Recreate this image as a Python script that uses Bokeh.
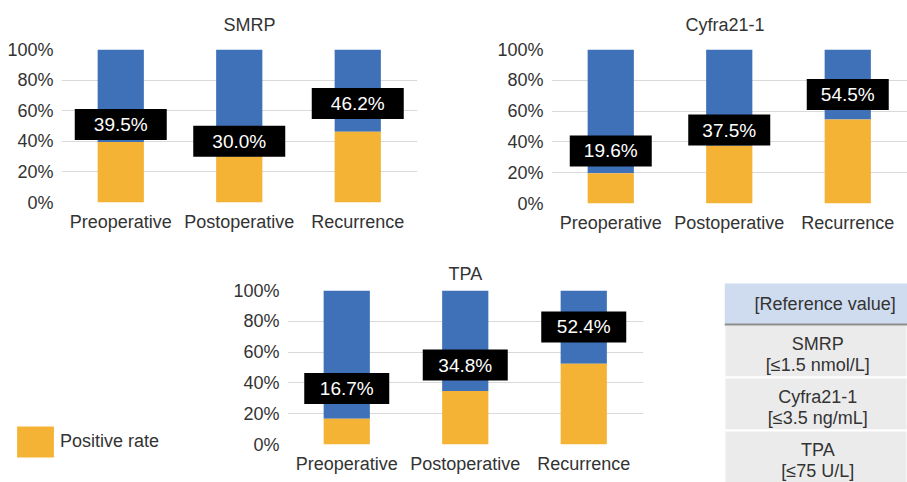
from bokeh.plotting import figure
from bokeh.layouts import column, row
from bokeh.models import (ColumnDataSource, FixedTicker, Range1d, Legend, LegendItem)
from bokeh.embed import file_html
from bokeh.resources import INLINE
from bokeh.core.properties import value

# ---------------- data ----------------
categories = ["Preoperative", "Postoperative", "Recurrence"]
smrp_rate = [39.5, 30.0, 46.2]
cyfra_rate = [19.6, 37.5, 54.5]
tpa_rate = [16.7, 34.8, 52.4]
y_ticks = [0, 20, 40, 60, 80, 100]
y_tick_labels = ["0%", "20%", "40%", "60%", "80%", "100%"]
markers = ["SMRP", "Cyfra21-1", "TPA"]
reference_values = ["[≤1.5 nmol/L]", "[≤3.5 ng/mL]", "[≤75 U/L]"]
table_header = "[Reference value]"
legend_label = "Positive rate"

# ---------------- style ----------------
BLUE = "#3F71B8"
YELLOW = "#F5B335"
TEXT = "#333333"
GRID = "#D9D9D9"
FONT = "Liberation Sans"
CAT_PX = 118.5  # pixels per category
# how far (in % units) each data label box sits above its bar's value
smrp_label_lift = [11.5, 10.0, 18.5]
cyfra_label_lift = [14.5, 10.2, 16.3]
tpa_label_lift = [19.7, 16.8, 23.9]


def make_chart(title, rates, lifts, box_w, width, height, left, top, frame_w, frame_h,
               title_offset, title_valign, title_standoff):
    xs = list(range(1, len(categories) + 1))
    x_end = 0.5 + frame_w / CAT_PX
    src = ColumnDataSource(dict(
        x=xs,
        rate=rates,
        full=[100] * len(rates),
        label=[f"{r:.1f}%" for r in rates],
        label_y=[r + d for r, d in zip(rates, lifts)],
    ))
    p = figure(width=width, height=height, title=title,
               x_range=Range1d(0.5, x_end), y_range=Range1d(0, 100),
               output_backend="svg", toolbar_location=None,
               min_border_left=left, min_border_right=width - left - frame_w,
               min_border_top=top, min_border_bottom=height - top - frame_h)
    p.frame_align = False
    p.title.align = "left"
    p.title.vertical_align = title_valign
    p.title.offset = title_offset
    p.title.standoff = title_standoff
    p.title.text_font = FONT
    p.title.text_font_size = "18px"
    p.title.text_font_style = "normal"
    p.title.text_color = TEXT
    p.outline_line_color = None
    p.background_fill_color = "white"
    p.border_fill_color = "white"

    p.vbar(x="x", bottom="rate", top="full", width=0.39, source=src,
           fill_color=BLUE, line_color=None)
    p.vbar(x="x", bottom=0, top="rate", width=0.39, source=src,
           fill_color=YELLOW, line_color=None)
    p.rect(x="x", y="label_y", width=box_w, height=31, width_units="screen",
           height_units="screen", source=src, fill_color="black", line_color=None)
    p.text(x="x", y="label_y", text="label", source=src, text_color="white",
           text_font=value(FONT), text_font_size="19px",
           text_align="center", text_baseline="middle")

    p.xgrid.visible = False
    p.ygrid.grid_line_color = GRID
    p.ygrid.ticker = FixedTicker(ticks=y_ticks)

    p.yaxis.ticker = FixedTicker(ticks=y_ticks)
    p.yaxis.major_label_overrides = dict(zip(y_ticks, y_tick_labels))
    p.xaxis.ticker = FixedTicker(ticks=xs)
    p.xaxis.major_label_overrides = dict(zip(xs, categories))
    for ax in (p.xaxis[0], p.yaxis[0]):
        ax.axis_line_color = None
        ax.major_tick_line_color = None
        ax.minor_tick_line_color = None
        ax.major_tick_out = 0
        ax.major_tick_in = 0
        ax.minor_tick_out = 0
        ax.major_label_text_font = FONT
        ax.major_label_text_color = TEXT
        ax.major_label_text_font_size = "18px"
    p.yaxis.major_label_standoff = 8
    p.xaxis.major_label_standoff = 9
    return p, src


p_smrp, _ = make_chart("SMRP", smrp_rate, smrp_label_lift, 92,
                       491, 248, 61, 49, 356, 153, 162, "top", 25)
p_cyfra, _ = make_chart("Cyfra21-1", cyfra_rate, cyfra_label_lift, 82,
                        416, 248, 60, 49, 356, 154, 134, "top", 25)
p_tpa, tpa_src = make_chart("TPA", tpa_rate, tpa_label_lift, 85,
                            524, 234, 87, 42, 356, 154, 161, "bottom", 14)

# ---------------- legend panel (left of the TPA chart) ----------------
p_leg = figure(width=200, height=234, x_range=Range1d(0, 1), y_range=Range1d(0, 1),
               output_backend="svg", toolbar_location=None,
               x_axis_location=None, y_axis_location=None, min_border=0)
p_leg.frame_align = False
p_leg.outline_line_color = None
p_leg.grid.visible = False
leg_r = p_leg.vbar(x="x", top="rate", width=0.39, source=tpa_src,
                   fill_color=YELLOW, line_color=None)
leg_r.visible = False
legend = Legend(items=[LegendItem(label=legend_label, renderers=[leg_r])],
                location=(12, 21), padding=0, margin=0, border_line_color=None,
                background_fill_alpha=0, glyph_width=46, glyph_height=39,
                label_standoff=2, label_text_font=FONT,
                label_text_font_size="18px", label_text_color=TEXT,
                label_height=39, inactive_fill_alpha=0)
p_leg.add_layout(legend, "center")

# ---------------- reference value table ----------------
n = len(markers)
UNIT = 53.0
TAB_H = 234
y0 = n - (482 - 324) / UNIT
y1 = y0 + TAB_H / UNIT
hdr_top = n + 41 / UNIT
p_tab = figure(width=183, height=TAB_H, x_range=Range1d(0, 1), y_range=Range1d(y0, y1),
               output_backend="svg", toolbar_location=None,
               x_axis_location=None, y_axis_location=None, min_border=0)
p_tab.frame_align = False
p_tab.outline_line_color = None
p_tab.grid.visible = False
row_bottom = [n - 1 - i for i in range(n)]
tab_src = ColumnDataSource(dict(
    bottom=row_bottom,
    top=[b + 1 for b in row_bottom],
    name_y=[b + 0.5 + 0.13 for b in row_bottom],
    ref_y=[b + 0.5 - 0.27 for b in row_bottom],
    name=markers,
    ref=reference_values,
))
p_tab.quad(left=0, right=1, bottom="bottom", top="top", source=tab_src,
           fill_color="#EBEBEB", line_color="white", line_width=2)
p_tab.quad(left=0, right=1, bottom=n, top=hdr_top, fill_color="#CFDCEF", line_color=None)
p_tab.segment(x0=0, x1=1, y0=n, y1=n, line_color="#8C8C8C", line_width=2)
p_tab.text(x=0.51, y="name_y", text="name", source=tab_src, text_color=TEXT,
           text_font=value(FONT), text_font_size="18px",
           text_align="center", text_baseline="middle")
p_tab.text(x=0.51, y="ref_y", text="ref", source=tab_src, text_color=TEXT,
           text_font=value(FONT), text_font_size="18px",
           text_align="center", text_baseline="middle")
p_tab.text(x=[0.55], y=[(n + hdr_top) / 2], text=[table_header], text_color=TEXT,
           text_font=value(FONT), text_font_size="18px",
           text_align="center", text_baseline="middle")

layout = column(row(p_smrp, p_cyfra, spacing=0),
                row(p_leg, p_tpa, p_tab, spacing=0), spacing=0)

open("out.html", "w").write(file_html(layout, INLINE))
